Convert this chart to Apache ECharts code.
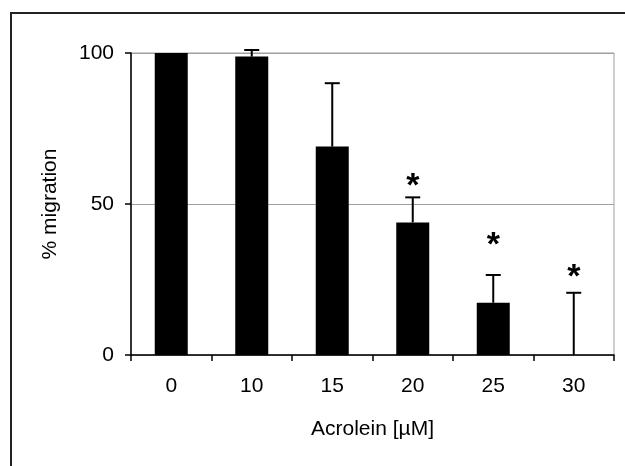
<!DOCTYPE html>
<html>
<head>
<meta charset="utf-8">
<script src="https://cdn.jsdelivr.net/npm/echarts@6/dist/echarts.min.js"></script>
<style>
  html, body { margin: 0; padding: 0; background: #fff; }
  #chart { width: 625px; height: 466px; }
</style>
</head>
<body>
<div id="chart"></div>
<script>
// Acrolein concentration (µM) on the category axis
const concentrations = ['0', '10', '15', '20', '25', '30'];
// Mean migration (% of control)
const migration = [100, 98.8, 69, 43.9, 17.3, 0];
// Upper error (SD) for each concentration
const errorUp = [0, 2.2, 21, 8.3, 9.2, 20.6];
// Significance marks: height (in % units) where the asterisk sits, null = not significant
const sigLevel = [null, null, null, 57, 37.5, 27];
// Value-axis ticks
const yTicks = [0, 50, 100];

const FONT = '"Liberation Sans", Arial, sans-serif';

const chart = echarts.init(document.getElementById('chart'), null, { renderer: 'canvas' });

const errData = concentrations.map((c, i) => [i, migration[i], errorUp[i]]);
const sigData = concentrations
  .map((c, i) => [i, sigLevel[i]])
  .filter(d => d[1] !== null);

chart.setOption({
  backgroundColor: '#fff',
  animation: false,
  graphic: [{
    type: 'rect',
    silent: true,
    shape: { x: 11, y: 13, width: 640, height: 480 },
    style: { fill: 'none', stroke: '#222', lineWidth: 2 },
    z: -10
  }],
  grid: {
    left: 131, top: 53, right: 11, bottom: 111,
    show: true, borderColor: '#a0a0a0', borderWidth: 1, backgroundColor: 'transparent'
  },
  xAxis: {
    type: 'category',
    data: concentrations,
    name: 'Acrolein [µM]',
    nameLocation: 'middle',
    nameGap: 64,
    nameTextStyle: { fontFamily: FONT, fontSize: 21, color: '#000' },
    axisLine: { lineStyle: { color: '#000', width: 1.5 } },
    axisTick: { show: true, length: 6, inside: false, alignWithLabel: false, lineStyle: { color: '#000', width: 1.5 } },
    axisLabel: { fontFamily: FONT, fontSize: 21, color: '#000', margin: 21 },
    splitLine: { show: false }
  },
  yAxis: {
    type: 'value',
    min: yTicks[0],
    max: yTicks[yTicks.length - 1],
    interval: yTicks[1] - yTicks[0],
    name: '% migration',
    nameLocation: 'middle',
    nameGap: 70,
    nameTextStyle: { fontFamily: FONT, fontSize: 21, color: '#000' },
    axisLine: { show: true, lineStyle: { color: '#000', width: 1.5 } },
    axisTick: { show: true, length: 6, lineStyle: { color: '#000', width: 1.5 } },
    axisLabel: { fontFamily: FONT, fontSize: 21, color: '#000', margin: 17 },
    splitLine: { show: true, lineStyle: { color: '#a0a0a0', width: 1 } }
  },
  series: [
    {
      type: 'bar',
      data: migration,
      barWidth: 33,
      itemStyle: { color: '#000' },
      z: 2
    },
    {
      // upper error bars with caps
      type: 'custom',
      data: errData,
      z: 3,
      renderItem: function (params, api) {
        const i = api.value(0);
        const v = api.value(1);
        const e = api.value(2);
        if (!e) return null;
        const base = api.coord([i, v]);
        const top = api.coord([i, v + e]);
        const half = 7.5;
        return {
          type: 'group',
          children: [
            { type: 'line', shape: { x1: base[0], y1: base[1], x2: top[0], y2: top[1] },
              style: { stroke: '#000', lineWidth: 2 } },
            { type: 'line', shape: { x1: top[0] - half, y1: top[1], x2: top[0] + half, y2: top[1] },
              style: { stroke: '#000', lineWidth: 2 } }
          ]
        };
      }
    },
    {
      // significance asterisks, glyph centred on the given level
      type: 'custom',
      data: sigData,
      z: 4,
      renderItem: function (params, api) {
        const p = api.coord([api.value(0), api.value(1)]);
        return {
          type: 'text',
          x: p[0],
          y: p[1] - 13,
          style: {
            text: '*',
            font: 'bold 34px ' + FONT,
            fill: '#000',
            align: 'center',
            verticalAlign: 'top'
          }
        };
      }
    }
  ]
});
</script>
</body>
</html>
